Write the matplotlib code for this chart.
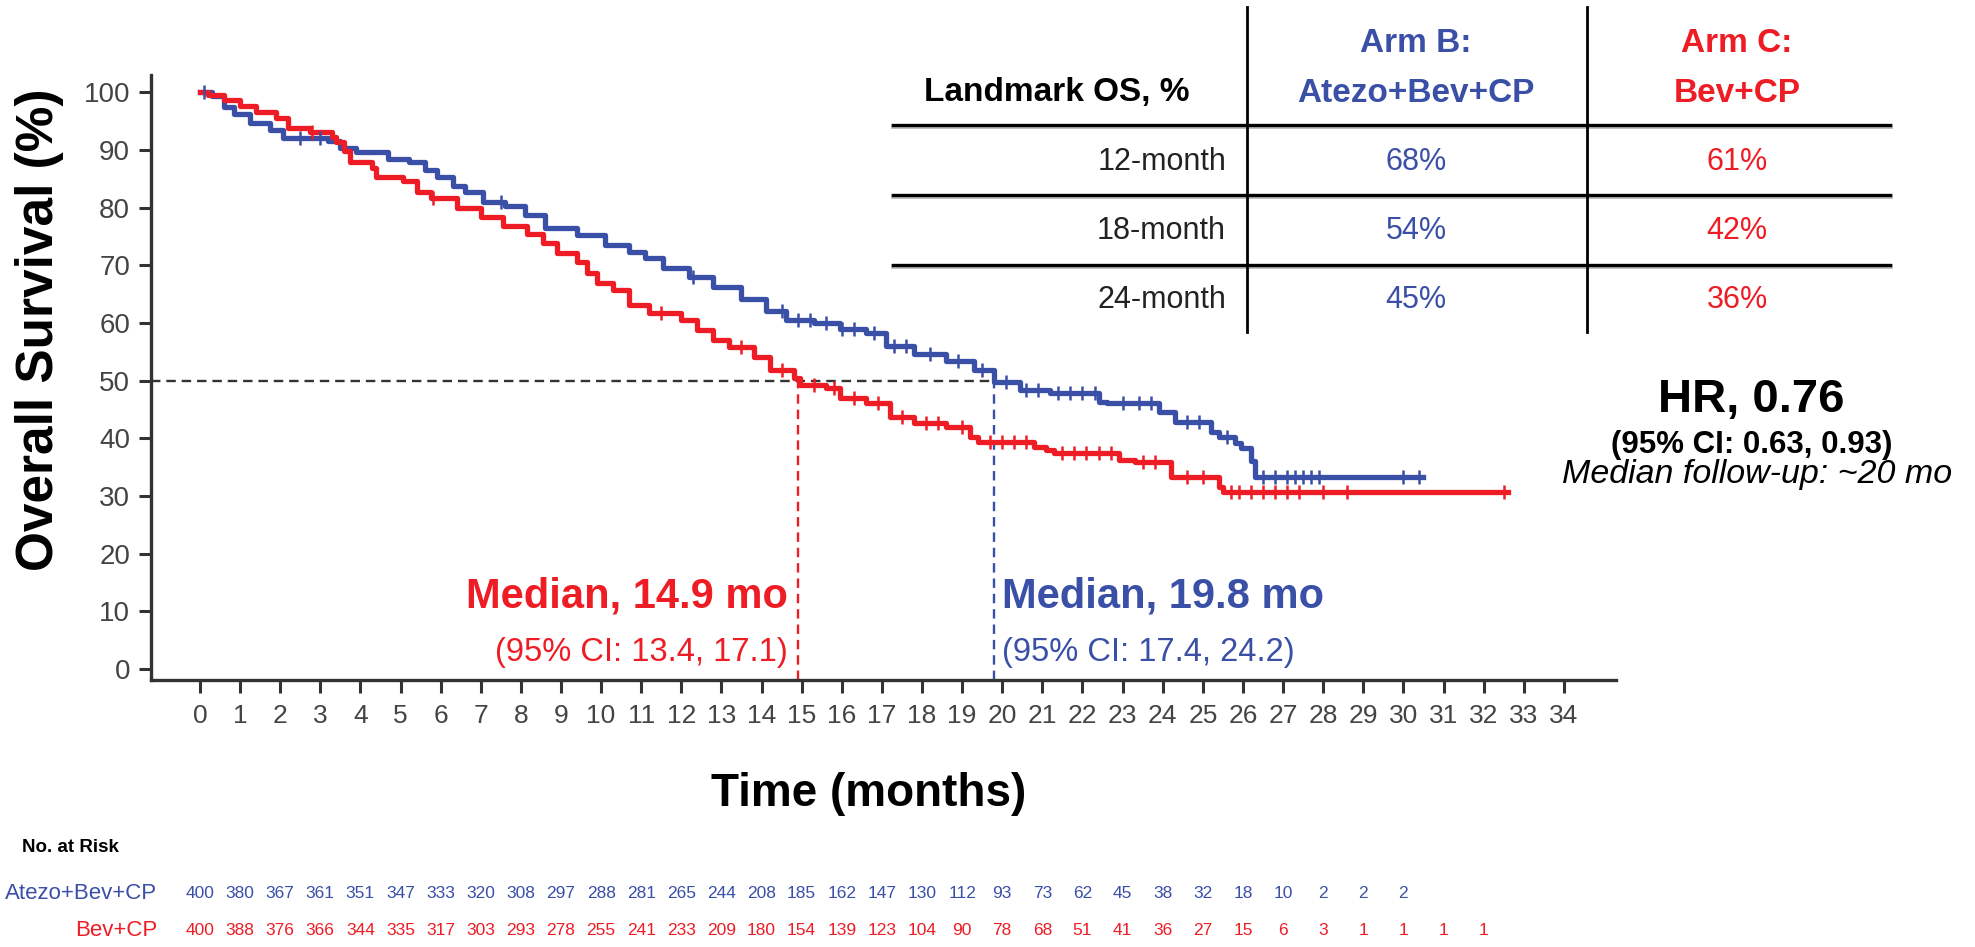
import matplotlib.pyplot as plt
import matplotlib.transforms as mtransforms
from matplotlib.lines import Line2D
import numpy as np

plt.rcParams['font.family'] = ['Liberation Sans', 'DejaVu Sans']

BLUE = '#3a4fa6'
RED = '#ee1c24'

# Kaplan-Meier steps (time in months, survival in %)
blue_t = [0, 0.3, 0.6, 0.85, 1.25, 1.75, 2.07, 3.2, 3.5, 3.9, 4.7, 5.2, 5.6, 5.9,
          6.3, 6.6, 7.05, 7.6, 8.1, 8.6, 9.4, 10.1, 10.7, 11.1, 11.55, 12.2, 12.8,
          13.5, 14.1, 14.6, 15.3, 15.95, 16.6, 17.1, 17.8, 18.6, 19.3, 19.8, 20.45,
          21.2, 22.4, 22.6, 23.9, 24.3, 25.2, 25.4, 25.8, 25.95, 26.2, 26.3]
blue_s = [100, 99.3, 97.5, 96.2, 94.6, 93.4, 92.0, 91.5, 90.3, 89.6, 88.5, 87.9,
          86.5, 85.3, 83.8, 82.8, 81.0, 80.2, 78.8, 76.5, 75.2, 73.5, 72.3, 71.2,
          69.6, 67.9, 66.3, 64.2, 62.0, 60.5, 60.0, 59.0, 58.2, 56.0, 54.6, 53.4,
          51.8, 49.8, 48.4, 47.8, 46.3, 46.1, 44.5, 42.8, 41.1, 40.2, 39.2, 38.3,
          36.0, 33.3]
blue_end = 30.5
blue_cens = [0.1, 2.5, 3.0, 7.5, 12.3, 14.5, 14.9, 15.2, 15.6, 16.0, 16.3, 16.8,
             17.3, 17.6, 18.2, 18.9, 19.5, 20.1, 20.6, 20.9, 21.4, 21.7, 22.0, 22.3,
             23.0, 23.4, 23.7, 24.6, 24.9, 25.6, 26.5, 26.8, 27.1, 27.3, 27.5, 27.7,
             27.9, 30.0, 30.4]

red_t = [0, 0.2, 0.6, 1.0, 1.4, 1.9, 2.2, 2.75, 3.3, 3.4, 3.6, 3.75, 4.3, 4.4,
         5.05, 5.4, 5.75, 6.4, 7.0, 7.55, 8.15, 8.55, 8.9, 9.4, 9.65, 9.9, 10.3,
         10.7, 11.2, 12.0, 12.4, 12.8, 13.2, 13.8, 14.2, 14.8, 14.95, 15.6, 15.95,
         16.6, 17.2, 17.8, 18.6, 19.2, 19.4, 20.8, 21.1, 21.3, 22.9, 23.3, 24.2,
         25.4, 25.5]
red_s = [100, 99.5, 98.6, 97.7, 96.5, 95.5, 93.8, 93.1, 92.2, 91.3, 89.9, 87.9,
         86.8, 85.3, 84.7, 82.7, 81.6, 79.9, 78.3, 76.9, 75.5, 73.8, 72.1, 70.5,
         68.6, 66.9, 65.7, 63.1, 61.7, 60.5, 58.8, 57.0, 55.8, 54.1, 51.8, 50.4,
         49.2, 48.7, 47.0, 46.1, 43.7, 42.6, 42.0, 40.2, 39.3, 38.5, 38.0, 37.4,
         36.2, 35.9, 33.3, 31.6, 30.7]
red_end = 32.6
red_cens = [2.8, 5.8, 11.5, 13.5, 14.5, 15.3, 15.8, 16.3, 16.9, 17.5, 18.1, 18.4,
            19.0, 19.7, 20.0, 20.3, 20.6, 21.5, 21.8, 22.1, 22.4, 22.7, 23.5, 23.8,
            24.6, 25.0, 25.7, 25.9, 26.2, 26.5, 26.8, 27.1, 27.4, 28.0, 28.6, 32.5]

blue_median = 19.8
red_median = 14.9

risk_blue = [400, 380, 367, 361, 351, 347, 333, 320, 308, 297, 288, 281, 265, 244,
             208, 185, 162, 147, 130, 112, 93, 73, 62, 45, 38, 32, 18, 10, 2, 2, 2]
risk_red = [400, 388, 376, 366, 344, 335, 317, 303, 293, 278, 255, 241, 233, 209,
            180, 154, 139, 123, 104, 90, 78, 68, 51, 41, 36, 27, 15, 6, 3, 1, 1, 1, 1]

landmarks = ['12-month', '18-month', '24-month']
os_blue = [68, 54, 45]
os_red = [61, 42, 36]

W, H = 1975, 947
def fx(x):
    return x / W
def fy(y):
    return 1 - y / H

fig = plt.figure(figsize=(W / 100, H / 100), dpi=100)
ax = fig.add_axes([fx(151), fy(680), fx(1616) - fx(151), fy(75) - fy(680)])


def km(ax, t, s, end, cens, color):
    tt = list(t) + [end]
    ss = list(s) + [s[-1]]
    ax.plot(tt, ss, drawstyle='steps-post', color=color, lw=3.8, zorder=3)
    idx = np.searchsorted(t, cens, side='right') - 1
    ax.plot(cens, np.array(s)[idx], ls='none', marker='|', ms=10, mew=1.8,
            color=color, zorder=4)

km(ax, blue_t, blue_s, blue_end, blue_cens, BLUE)
km(ax, red_t, red_s, red_end, red_cens, RED)

# median reference lines
ax.plot([-1.22, blue_median], [50, 50], ls=(0, (4, 2.5)), color='#333333', lw=1.7, zorder=2)
ax.plot([red_median, red_median], [-1.9, 50], ls=(0, (4, 2.5)), color=RED, lw=1.7, zorder=2)
ax.plot([blue_median, blue_median], [-1.9, 50], ls=(0, (4, 2.5)), color=BLUE, lw=1.7, zorder=2)

ax.set_xlim(-1.22, 35.3)
ax.set_ylim(-1.9, 103)
ax.set_xticks(range(0, 35))
ax.set_yticks(range(0, 101, 10))
for sp in ['top', 'right']:
    ax.spines[sp].set_visible(False)
for sp in ['left', 'bottom']:
    ax.spines[sp].set_linewidth(2.4)
    ax.spines[sp].set_color('#333333')
ax.tick_params(axis='both', direction='out', length=9, width=2.2, color='#333333',
               labelcolor='#444444')
ax.tick_params(axis='y', labelsize=20, pad=6)
ax.tick_params(axis='x', labelsize=19, pad=8)

fig.text(fx(40), fy(330), 'Overall Survival (%)', rotation=90, ha='center', va='center',
         fontsize=37, fontweight='bold')
fig.text(fx(869), fy(794), 'Time (months)', ha='center', va='center', fontsize=33,
         fontweight='bold')

# median annotations
ax.text(red_median - 0.25, 12.5, 'Median, 14.9 mo', color=RED, ha='right', va='center',
        fontsize=30, fontweight='bold')
ax.text(red_median - 0.25, 2.8, '(95% CI: 13.4, 17.1)', color=RED, ha='right',
        va='center', fontsize=23.5)
ax.text(blue_median + 0.2, 12.5, 'Median, 19.8 mo', color=BLUE, ha='left', va='center',
        fontsize=30, fontweight='bold')
ax.text(blue_median + 0.2, 2.8, '(95% CI: 17.4, 24.2)', color=BLUE, ha='left',
        va='center', fontsize=23.5)

# hazard ratio block
fig.text(fx(1751), fy(400), 'HR, 0.76', ha='center', va='center', fontsize=34,
         fontweight='bold')
fig.text(fx(1752), fy(445), '(95% CI: 0.63, 0.93)', ha='center', va='center',
         fontsize=22.5, fontweight='bold')
fig.text(fx(1952), fy(474), 'Median follow-up: ~20 mo', ha='right', va='center',
         fontsize=24.5, style='italic')

# landmark table
for yy in [125, 195, 265]:
    fig.add_artist(Line2D([fx(893), fx(1890)], [fy(yy + 1.5)] * 2, color='#bbbbbb', lw=3.5))
    fig.add_artist(Line2D([fx(893), fx(1890)], [fy(yy)] * 2, color='black', lw=2.4))
for xx in [1247, 1587]:
    fig.add_artist(Line2D([fx(xx)] * 2, [fy(7), fy(332)], color='black', lw=2))
fig.text(fx(1057), fy(93), 'Landmark OS, %', ha='center', va='center', fontsize=24,
         fontweight='bold')
fig.text(fx(1416), fy(43), 'Arm B:', ha='center', va='center', fontsize=24,
         fontweight='bold', color=BLUE)
fig.text(fx(1416), fy(93), 'Atezo+Bev+CP', ha='center', va='center', fontsize=24,
         fontweight='bold', color=BLUE)
fig.text(fx(1737), fy(43), 'Arm C:', ha='center', va='center', fontsize=24,
         fontweight='bold', color=RED)
fig.text(fx(1737), fy(93), 'Bev+CP', ha='center', va='center', fontsize=24,
         fontweight='bold', color=RED)
for i, lm in enumerate(landmarks):
    yy = 162 + i * 69
    fig.text(fx(1226), fy(yy), lm, ha='right', va='center', fontsize=22, color='#222222')
    fig.text(fx(1416), fy(yy), f'{os_blue[i]}%', ha='center', va='center', fontsize=22,
             color=BLUE)
    fig.text(fx(1737), fy(yy), f'{os_red[i]}%', ha='center', va='center', fontsize=22,
             color=RED)

# number at risk
tr = mtransforms.blended_transform_factory(ax.transData, fig.transFigure)
fig.text(fx(22), fy(847), 'No. at Risk', ha='left', va='center', fontsize=13.5,
         fontweight='bold')
fig.text(fx(157), fy(893), 'Atezo+Bev+CP', ha='right', va='center', fontsize=16,
         color=BLUE)
fig.text(fx(157), fy(930), 'Bev+CP', ha='right', va='center', fontsize=16,
         color=RED)
for m, n in enumerate(risk_blue):
    ax.text(m, fy(893), str(n), transform=tr, ha='center', va='center', fontsize=12.5,
            color=BLUE)
for m, n in enumerate(risk_red):
    ax.text(m, fy(930), str(n), transform=tr, ha='center', va='center', fontsize=12.5,
            color=RED)

fig.savefig('out.png', dpi=100)
